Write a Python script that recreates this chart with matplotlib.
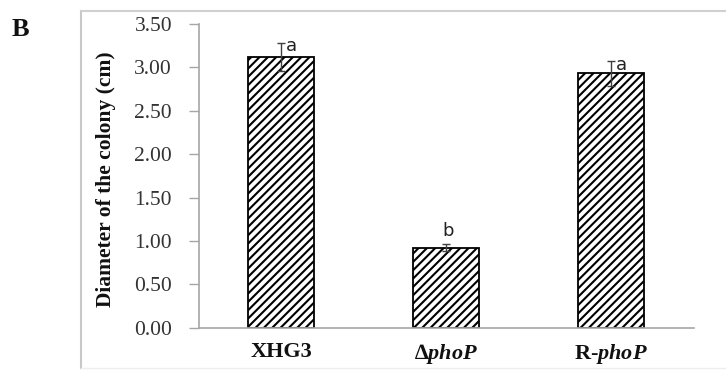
import matplotlib
matplotlib.use("Agg")
import matplotlib.pyplot as plt
from matplotlib.lines import Line2D

# ---- data ----
categories = ["XHG3", "\u2206$\\mathit{phoP}$", "R-$\\mathit{phoP}$"]
values = [3.12, 0.92, 2.93]
errors = [0.16, 0.04, 0.14]
letters = ["a", "b", "a"]
yticks = [0.0, 0.5, 1.0, 1.5, 2.0, 2.5, 3.0, 3.5]
ylabel = "Diameter of the colony (cm)"
panel = "B"

plt.rcParams["hatch.linewidth"] = 1.5
plt.rcParams["mathtext.fontset"] = "custom"
plt.rcParams["mathtext.rm"] = "Liberation Serif:bold"
plt.rcParams["mathtext.it"] = "Liberation Serif:italic:bold"
plt.rcParams["mathtext.bf"] = "Liberation Serif:bold"

W, H = 726, 370
fig = plt.figure(figsize=(W / 100, H / 100), dpi=100)

# outer light frame
fig.add_artist(Line2D([81 / W, 81 / W], [1 - 11 / H, 1 - 368 / H], transform=fig.transFigure,
                      color="#c8c8c8", lw=1.5))
fig.add_artist(Line2D([81 / W, 725 / W], [1 - 11 / H, 1 - 11 / H], transform=fig.transFigure,
                      color="#d0d0d0", lw=1.5))
fig.add_artist(Line2D([81 / W, 725 / W], [1 - 368 / H, 1 - 368 / H], transform=fig.transFigure,
                      color="#eeeeee", lw=1.0))

left, right = 198.5 / W, 694 / W
bottom, top = 1 - 327.7 / H, 1 - 24 / H
ax = fig.add_axes([left, bottom, right - left, top - bottom])

x = list(range(len(categories)))
ax.bar(x, values, width=0.4, color="white", edgecolor="black", hatch="////", linewidth=1.3, zorder=2)
ax.errorbar(x, values, yerr=errors, fmt="none", ecolor="#404040", elinewidth=1.0,
            capsize=3, capthick=1.0, zorder=3)

for xi, v, e, L in zip(x, values, errors, letters):
    if L == "b":
        ax.annotate(L, (xi, v + e), xytext=(1, 6), textcoords="offset points",
                    ha="center", va="baseline", fontsize=13, family="DejaVu Sans", color="#222222")
    else:
        ax.annotate(L, (xi, v + e), xytext=(3.5, -6), textcoords="offset points",
                    ha="left", va="baseline", fontsize=13, family="DejaVu Sans", color="#222222")

ax.set_xlim(-0.5, 2.5)
ax.set_ylim(0, 3.5)
ax.set_yticks(yticks)
ax.set_yticklabels([f"{t:.2f}" for t in yticks], family="Liberation Serif", fontsize=15.5, color="#333333")
ax.set_xticks(x)
ax.set_xticklabels(categories, family="Liberation Serif", fontweight="bold", fontsize=16, color="#111111")

ax.tick_params(axis="y", direction="out", length=7, width=1, color="#a6a6a6", pad=12)
ax.tick_params(axis="x", length=0, pad=10)

for s in ["top", "right"]:
    ax.spines[s].set_visible(False)
for s in ["left", "bottom"]:
    ax.spines[s].set_color("#a6a6a6")
    ax.spines[s].set_linewidth(1.2)

fig.text(106 / W, 1 - 179 / H, ylabel, rotation=90, ha="center", va="center",
         family="Liberation Serif", fontweight="bold", fontsize=15.5, color="#111111")
fig.text(20 / W, 1 - 29 / H, panel, ha="center", va="center",
         family="Liberation Serif", fontweight="bold", fontsize=19, color="#111111")

fig.savefig("out.png", dpi=100)
